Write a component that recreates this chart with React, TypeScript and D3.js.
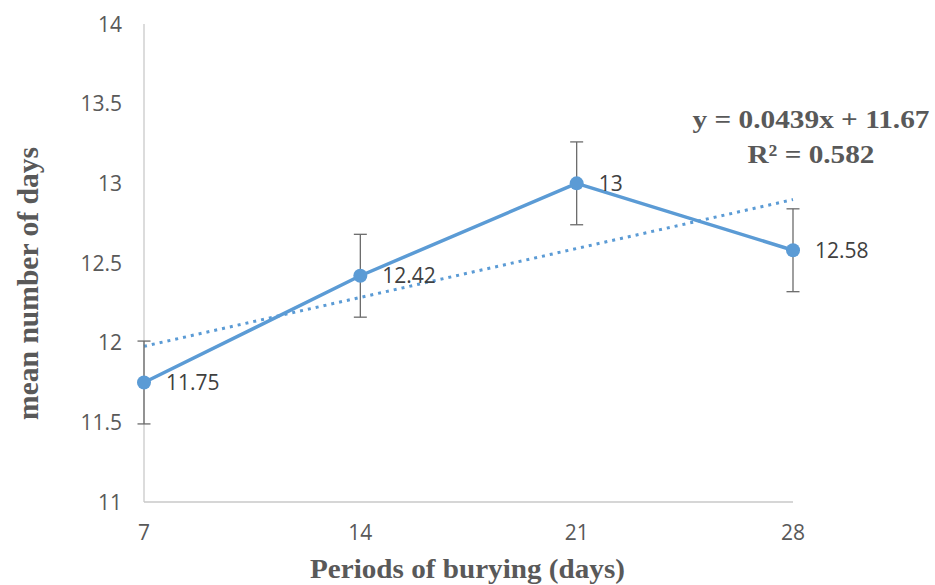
import React from "react";
import * as d3 from "d3";

const days = [7, 14, 21, 28];
const meanDays = [11.75, 12.42, 13, 12.58];
const errors = [0.26, 0.26, 0.26, 0.26];
const yTicks = [11, 11.5, 12, 12.5, 13, 13.5, 14];
const xTicks = [7, 14, 21, 28];

const W = 935;
const H = 585;
const blue = "#5B9BD5";

export default function App() {
  const x = d3.scaleLinear().domain([7, 28]).range([144, 793]);
  const y = d3.scaleLinear().domain([11, 14]).range([502, 24]);

  // linear regression (Excel trendline)
  const n = days.length;
  const mx = d3.mean(days) as number;
  const my = d3.mean(meanDays) as number;
  const sxy = d3.sum(days.map((d, i) => (d - mx) * (meanDays[i] - my)));
  const sxx = d3.sum(days.map((d) => (d - mx) * (d - mx)));
  const slope = sxy / sxx;
  const intercept = my - slope * mx;
  const ssTot = d3.sum(meanDays.map((v) => (v - my) ** 2));
  const ssRes = d3.sum(days.map((d, i) => (meanDays[i] - (intercept + slope * d)) ** 2));
  const r2 = 1 - ssRes / ssTot;

  const line = d3
    .line<number>()
    .x((_, i) => x(days[i]))
    .y((v) => y(v));

  const trendPts = [days[0], days[n - 1]].map((d) => [x(d), y(intercept + slope * d)]);

  return (
    <svg
      width={W}
      height={H}
      style={{ position: "absolute", left: 0, top: 0, background: "#fff" }}
    >
      {/* axes */}
      <line x1={x(7)} x2={x(7)} y1={y(14)} y2={y(11)} stroke="#c9c9c9" strokeWidth={1.3} />
      <line x1={x(7)} x2={x(28)} y1={y(11)} y2={y(11)} stroke="#c9c9c9" strokeWidth={1.3} />

      {yTicks.map((t) => (
        <text
          key={"y" + t}
          x={122}
          y={y(t)}
          dy="0.36em"
          textAnchor="end"
          fontFamily="Open Sans"
          fontSize={21}
          fill="#595959"
        >
          {t}
        </text>
      ))}
      {xTicks.map((t) => (
        <text
          key={"x" + t}
          x={x(t)}
          y={540}
          textAnchor="middle"
          fontFamily="Open Sans"
          fontSize={21}
          fill="#595959"
        >
          {t}
        </text>
      ))}

      {/* trendline */}
      <line
        x1={trendPts[0][0]}
        y1={trendPts[0][1]}
        x2={trendPts[1][0]}
        y2={trendPts[1][1]}
        stroke={blue}
        strokeWidth={3}
        strokeDasharray="3 5"
      />

      {/* error bars */}
      {days.map((d, i) => {
        const cx = x(d);
        const y1 = y(meanDays[i] + errors[i]);
        const y2 = y(meanDays[i] - errors[i]);
        return (
          <g key={"e" + d} stroke="#6b6b6b" strokeWidth={1.3}>
            <line x1={cx} x2={cx} y1={y1} y2={y2} />
            <line x1={cx - 6.5} x2={cx + 6.5} y1={y1} y2={y1} />
            <line x1={cx - 6.5} x2={cx + 6.5} y1={y2} y2={y2} />
          </g>
        );
      })}

      {/* series line */}
      <path d={line(meanDays) as string} fill="none" stroke={blue} strokeWidth={3.5} strokeLinejoin="round" />
      {days.map((d, i) => (
        <circle key={"c" + d} cx={x(d)} cy={y(meanDays[i])} r={7} fill={blue} />
      ))}

      {/* data labels */}
      {days.map((d, i) => (
        <text
          key={"l" + d}
          x={x(d) + 22}
          y={y(meanDays[i])}
          dy="0.36em"
          fontFamily="Open Sans"
          fontSize={21}
          fill="#404040"
        >
          {meanDays[i]}
        </text>
      ))}

      {/* trendline equation */}
      <text
        x={811}
        y={128}
        textAnchor="middle"
        fontFamily="Liberation Serif"
        fontWeight="bold"
        fontSize={26}
        fill="#595959"
        textLength={237}
        lengthAdjust="spacingAndGlyphs"
      >
        {`y = ${slope.toFixed(4)}x + ${intercept.toFixed(2)}`}
      </text>
      <text
        x={811}
        y={163}
        textAnchor="middle"
        fontFamily="Liberation Serif"
        fontWeight="bold"
        fontSize={26}
        fill="#595959"
        textLength={127}
        lengthAdjust="spacingAndGlyphs"
      >
        {`R² = ${r2.toFixed(3)}`}
      </text>

      {/* axis titles */}
      <text
        x={467.5}
        y={578}
        textAnchor="middle"
        fontFamily="Liberation Serif"
        fontWeight="bold"
        fontSize={27}
        fill="#595959"
        textLength={315}
        lengthAdjust="spacingAndGlyphs"
      >
        Periods of burying (days)
      </text>
      <text
        transform={`translate(38, 283.5) rotate(-90)`}
        textAnchor="middle"
        fontFamily="Liberation Serif"
        fontWeight="bold"
        fontSize={30}
        fill="#595959"
        textLength={273}
        lengthAdjust="spacingAndGlyphs"
      >
        mean number of days
      </text>
    </svg>
  );
}
